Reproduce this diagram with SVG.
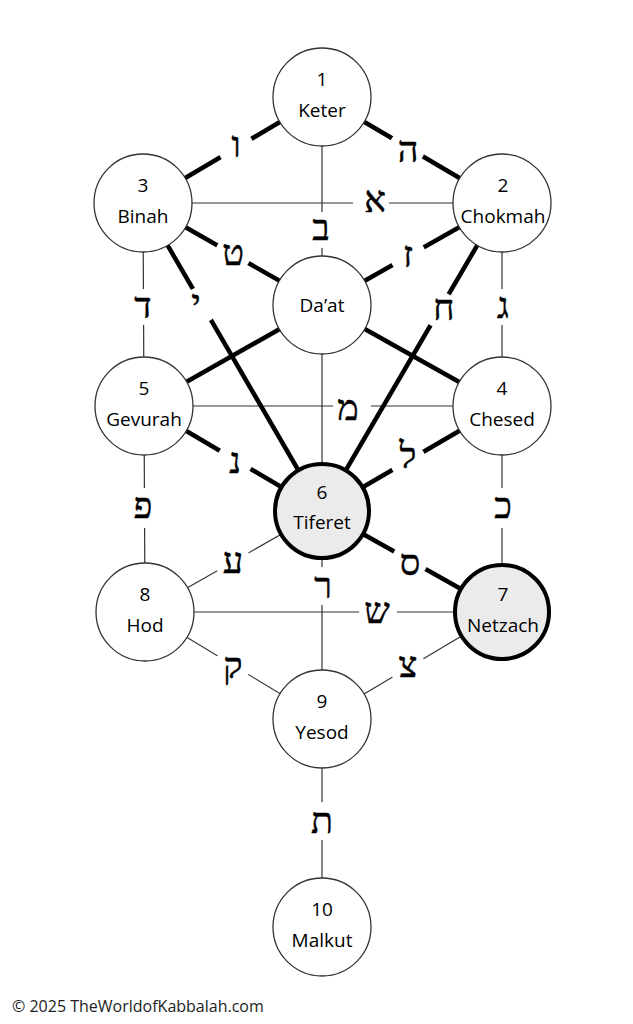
<svg xmlns="http://www.w3.org/2000/svg" width="633" height="1024" viewBox="0 0 633 1024">
<style>
.thin{stroke:#333;stroke-width:1.2;fill:none}
.thick{stroke:#000;stroke-width:4.5;fill:none}
.gap{fill:#fff;stroke:none}
.heb{font-family:"Liberation Serif","DejaVu Sans",serif;font-size:36px;text-anchor:middle;fill:#000;stroke:#000;stroke-width:0.5}
.node{fill:#fff;stroke:#333;stroke-width:1.3}
.hl{fill:#ebebeb;stroke:#000;stroke-width:4}
.lbl{font-family:"Open Sans","Noto Sans",sans-serif;font-size:19px;text-anchor:middle;fill:#000}
.copy{font-family:"Open Sans","Noto Sans",sans-serif;font-size:16px;fill:#222}
</style>
<rect width="633" height="1024" fill="#fff"/>
<g id="connectors">
<line class="thin" x1="143" y1="203" x2="502" y2="203"/>
<line class="thin" x1="322" y1="97" x2="322" y2="927"/>
<line class="thin" x1="143" y1="203" x2="144" y2="406"/>
<line class="thin" x1="502" y1="203" x2="502" y2="406"/>
<line class="thin" x1="144" y1="406" x2="502" y2="406"/>
<line class="thin" x1="144" y1="406" x2="145" y2="612"/>
<line class="thin" x1="502" y1="406" x2="502" y2="612"/>
<line class="thin" x1="145" y1="612" x2="502" y2="612"/>
<line class="thin" x1="145" y1="612" x2="322" y2="511"/>
<line class="thin" x1="145" y1="612" x2="322" y2="719"/>
<line class="thin" x1="502" y1="612" x2="322" y2="719"/>
<line class="thick" x1="322" y1="97" x2="143" y2="203"/>
<line class="thick" x1="322" y1="97" x2="502" y2="203"/>
<line class="thick" x1="143" y1="203" x2="322" y2="305"/>
<line class="thick" x1="502" y1="203" x2="322" y2="305"/>
<line class="thick" x1="143" y1="203" x2="322" y2="511"/>
<line class="thick" x1="502" y1="203" x2="322" y2="511"/>
<line class="thick" x1="322" y1="305" x2="144" y2="406"/>
<line class="thick" x1="322" y1="305" x2="502" y2="406"/>
<line class="thick" x1="144" y1="406" x2="322" y2="511"/>
<line class="thick" x1="502" y1="406" x2="322" y2="511"/>
<line class="thick" x1="322" y1="511" x2="502" y2="612"/>
<g id="label-gaps">
<circle class="gap" cx="236" cy="148" r="18"/>
<circle class="gap" cx="407" cy="148" r="18"/>
<circle class="gap" cx="371" cy="203" r="18"/>
<circle class="gap" cx="322" cy="230" r="18"/>
<circle class="gap" cx="233" cy="254" r="18"/>
<circle class="gap" cx="408" cy="256" r="18"/>
<circle class="gap" cx="143" cy="307" r="18"/>
<circle class="gap" cx="201" cy="305" r="18"/>
<circle class="gap" cx="440" cy="310" r="18"/>
<circle class="gap" cx="502" cy="307" r="18"/>
<circle class="gap" cx="352" cy="406" r="19"/>
<circle class="gap" cx="235" cy="460" r="18"/>
<circle class="gap" cx="408" cy="461" r="18"/>
<circle class="gap" cx="144" cy="508" r="20"/>
<circle class="gap" cx="502" cy="508" r="20"/>
<circle class="gap" cx="233" cy="562" r="18"/>
<circle class="gap" cx="410" cy="560" r="18"/>
<circle class="gap" cx="322" cy="586" r="19"/>
<circle class="gap" cx="378" cy="612" r="19"/>
<circle class="gap" cx="233" cy="665" r="18"/>
<circle class="gap" cx="408" cy="668" r="18"/>
<circle class="gap" cx="322" cy="821" r="19"/>
</g>
<g id="letters">
<text class="heb" x="236" y="157">ו</text>
<text class="heb" x="408" y="162">ה</text>
<text class="heb" x="375" y="212">א</text>
<text class="heb" x="321" y="240">ב</text>
<text class="heb" x="233" y="265">ט</text>
<text class="heb" x="408" y="267">ז</text>
<text class="heb" x="143" y="318">ד</text>
<text class="heb" x="196" y="315">י</text>
<text class="heb" x="444" y="320">ח</text>
<text class="heb" x="503" y="318">ג</text>
<text class="heb" x="348" y="420">מ</text>
<text class="heb" x="235" y="473">נ</text>
<text class="heb" x="408" y="468">ל</text>
<text class="heb" x="143" y="518">פ</text>
<text class="heb" x="503" y="518">כ</text>
<text class="heb" x="233" y="573">ע</text>
<text class="heb" x="410" y="575">ס</text>
<text class="heb" x="323" y="598">ר</text>
<text class="heb" x="377" y="623">ש</text>
<text class="heb" x="233" y="678">ק</text>
<text class="heb" x="408" y="677">צ</text>
<text class="heb" x="322" y="833">ת</text>
</g>
</g>
<g id="keter"><circle class="node" cx="322" cy="97" r="49"/><text class="lbl" x="322" y="86">1</text><text class="lbl" x="322" y="117">Keter</text></g>
<g id="chokmah"><circle class="node" cx="502" cy="203" r="49"/><text class="lbl" x="503" y="192">2</text><text class="lbl" x="503" y="223">Chokmah</text></g>
<g id="binah"><circle class="node" cx="143" cy="203" r="49"/><text class="lbl" x="143" y="192">3</text><text class="lbl" x="143" y="223">Binah</text></g>
<g id="daat"><circle class="node" cx="322" cy="305" r="49"/><text class="lbl" x="322" y="312">Da’at</text></g>
<g id="chesed"><circle class="node" cx="502" cy="406" r="49"/><text class="lbl" x="502" y="395">4</text><text class="lbl" x="502" y="426">Chesed</text></g>
<g id="gevurah"><circle class="node" cx="144" cy="406" r="49"/><text class="lbl" x="144" y="395">5</text><text class="lbl" x="144" y="426">Gevurah</text></g>
<g id="tiferet"><circle class="hl" cx="322" cy="511" r="47"/><text class="lbl" x="322" y="499">6</text><text class="lbl" x="322" y="529">Tiferet</text></g>
<g id="netzach"><circle class="hl" cx="502" cy="612" r="47"/><text class="lbl" x="503" y="601">7</text><text class="lbl" x="503" y="632">Netzach</text></g>
<g id="hod"><circle class="node" cx="145" cy="612" r="49"/><text class="lbl" x="145" y="601">8</text><text class="lbl" x="145" y="632">Hod</text></g>
<g id="yesod"><circle class="node" cx="322" cy="719" r="49"/><text class="lbl" x="322" y="708">9</text><text class="lbl" x="322" y="739">Yesod</text></g>
<g id="malkut"><circle class="node" cx="322" cy="927" r="49"/><text class="lbl" x="322" y="916">10</text><text class="lbl" x="322" y="947">Malkut</text></g>
<text class="copy" x="12" y="1012">© 2025 TheWorldofKabbalah.com</text>
</svg>
